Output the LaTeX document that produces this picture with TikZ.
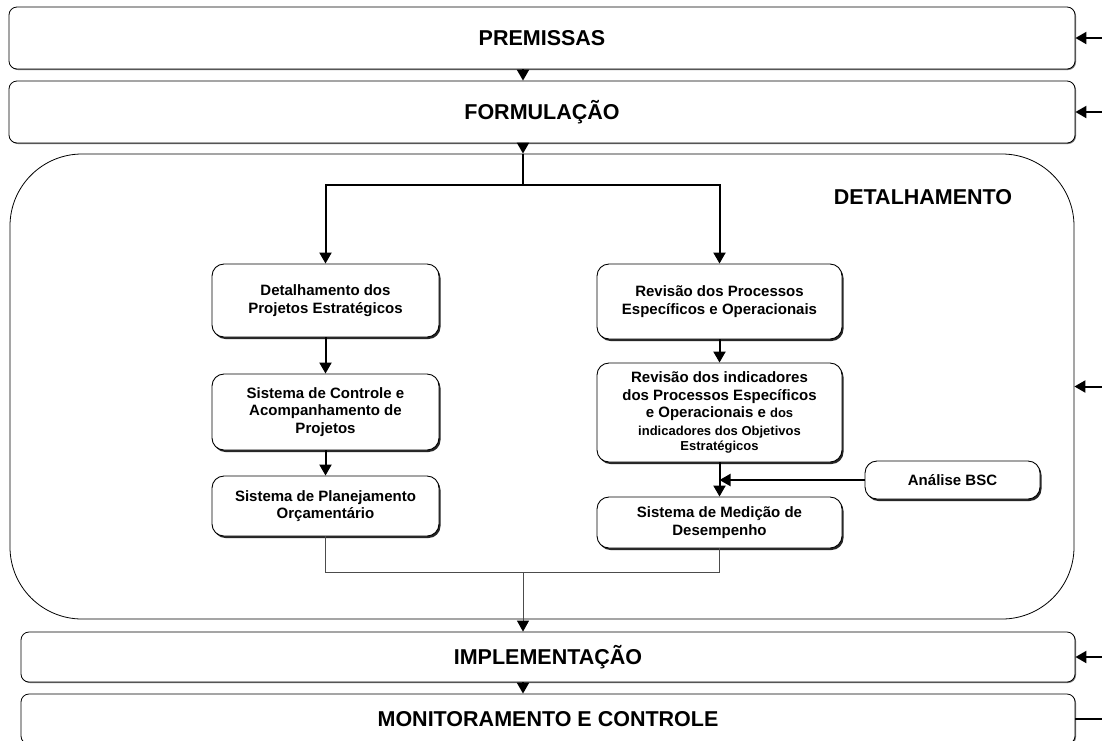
\documentclass[tikz,border=0pt]{standalone}
\usepackage{fontspec}
\setmainfont{Liberation Sans}
\usetikzlibrary{positioning,arrows.meta,shadows}

\tikzset{
  stagebox/.style={draw=black, line width=0.8pt, rounded corners=8pt, fill=white,
    inner sep=0pt, font=\fontsize{21.5}{25}\selectfont\bfseries,
    drop shadow={shadow xshift=1pt, shadow yshift=-1pt, fill=black!55, opacity=1}},
  taskbox/.style={draw=black, line width=0.9pt, rounded corners=12pt, fill=white,
    align=center, inner sep=0pt, font=\fontsize{15}{17.5}\selectfont\bfseries,
    drop shadow={shadow xshift=1.5pt, shadow yshift=-2pt, fill=black!85, opacity=1}},
  flow/.style={line width=2pt, -{Triangle[length=11pt,width=12pt]}},
  thinline/.style={line width=0.9pt, draw=black!70},
  thinflow/.style={thinline, -{Triangle[length=11pt,width=12pt,color=black]}},
}
\newcommand{\smalltxt}{\fontsize{13}{15}\selectfont}

\begin{document}
\begin{tikzpicture}[x=1pt, y=-1pt]
\clip (0,0) rectangle (1102,740);
\fill[white] (0,0) rectangle (1102,740);
% big frame
\node[draw=black, line width=0.8pt, rounded corners=72pt, minimum width=1064pt, minimum height=465pt] (detal) at (542,386.5) {};
\node[font=\fontsize{21.5}{25}\selectfont\bfseries] (dtitle) at (923,197) {DETALHAMENTO};
% stages
\node[stagebox, minimum width=1066pt, minimum height=62pt] (prem) at (542,38) {PREMISSAS};
\node[stagebox, minimum width=1066pt, minimum height=62pt] (form) at (542,112) {FORMULAÇÃO};
\node[stagebox, minimum width=1054pt, minimum height=50pt] (impl) at (548,657) {IMPLEMENTAÇÃO};
\node[stagebox, minimum width=1054pt, minimum height=50pt] (moni) at (548,719) {MONITORAMENTO E CONTROLE};
% tasks
\node[taskbox, minimum width=227pt, minimum height=73pt] (dproj) at (325.5,300.5) {Detalhamento dos\\Projetos Estratégicos};
\node[taskbox, minimum width=227pt, minimum height=76pt] (sctrl) at (325.5,412) {Sistema de Controle e\\Acompanhamento de\\Projetos};
\node[taskbox, minimum width=227pt, minimum height=60pt] (splan) at (325.5,506) {Sistema de Planejamento\\Orçamentário};
\node[taskbox, minimum width=245pt, minimum height=75pt] (rproc) at (719.5,301.5) {Revisão dos Processos\\Específicos e Operacionais};
\node[taskbox, minimum width=245pt, minimum height=99pt] (rind) at (719.5,412.5) {Revisão dos indicadores\\dos Processos Específicos\\e Operacionais e {\smalltxt dos}\\{\smalltxt indicadores dos Objetivos}\\[-2pt]{\smalltxt Estratégicos}};
\node[taskbox, minimum width=245pt, minimum height=51pt] (smed) at (719.5,522.5) {Sistema de Medição de\\Desempenho};
\node[taskbox, minimum width=175pt, minimum height=38pt] (bsc) at (952.5,480) {Análise BSC};
% helper points
\coordinate (split) at (523,185);
\coordinate (join) at (523,572);
\coordinate (inP) at (1102,38);
\coordinate (inF) at (1102,112);
\coordinate (inD) at (1102,386.5);
\coordinate (inI) at (1102,657);
\coordinate (outM) at (1102,719);
% main flow
\draw[flow] (prem.south -| split) -- (form.north -| split);
\draw[flow] (form.south -| split) -- (detal.north -| split);
\draw[line width=2pt] (detal.north -| split) -- (split);
\draw[flow] (split) -| (dproj.north);
\draw[flow] (split) -| (rproc.north);
\draw[flow] (dproj) -- (sctrl);
\draw[flow] (sctrl) -- (splan);
\draw[flow] (rproc) -- (rind);
\draw[flow] (rind) -- (smed);
\draw[flow] (bsc.west) -- (bsc.west -| rind.south);
\draw[thinline] (splan.south) |- (join) -| (smed.south);
\draw[thinflow] (join) -- (impl.north -| join);
\draw[flow] (impl.south -| join) -- (moni.north -| join);
% side inputs
\draw[flow] (inP) -- (prem.east);
\draw[flow] (inF) -- (form.east);
\draw[flow] (inD) -- (detal.east);
\draw[flow] (inI) -- (impl.east);
\draw[line width=2pt] (moni.east) -- (outM);
\end{tikzpicture}
\end{document}
